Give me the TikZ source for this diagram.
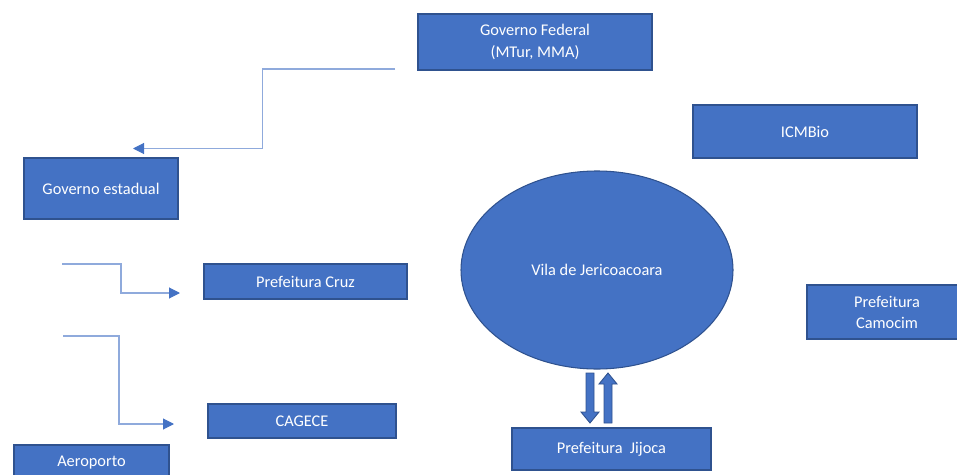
\documentclass[tikz,border=0pt]{standalone}
\usepackage{fontspec}
\setmainfont{Carlito}
\usetikzlibrary{arrows.meta,shapes.geometric}
\definecolor{boxblue}{HTML}{4472C4}
\definecolor{edgeblue}{HTML}{2F528F}
\definecolor{lineblue}{HTML}{8FAADC}
\tikzset{
  orgbox/.style={draw=edgeblue, fill=boxblue, text=white, line width=0.6pt,
    align=center, inner sep=0pt, font=\fontsize{9.3}{12}\selectfont},
  flow/.style={draw=lineblue, line width=0.6pt,
    -{Triangle[length=0.22cm, width=0.22cm, color=boxblue]}},
  blockarrow/.style={draw=edgeblue, fill=boxblue, line width=0.5pt}
}
\begin{document}
\begin{tikzpicture}
      \useasboundingbox (0,0) rectangle (19.14,-9.5);
      \clip (0,0) rectangle (19.14,-9.5);
      % boxes
      \draw
        (10.70,-0.84) node[orgbox, minimum width=4.68cm, minimum height=1.12cm] (federal){Governo Federal\\(MTur, MMA)}
        (16.10,-2.63) node[orgbox, minimum width=4.48cm, minimum height=1.06cm] (icmbio){ICMBio}
        (2.02,-3.77) node[orgbox, minimum width=3.08cm, minimum height=1.22cm] (estadual){Governo estadual}
        (6.11,-5.63) node[orgbox, minimum width=4.06cm, minimum height=0.70cm] (cruz){Prefeitura Cruz}
        (17.74,-6.24) node[orgbox, minimum width=3.20cm, minimum height=1.08cm] (camocim){Prefeitura\\Camocim}
        (6.04,-8.42) node[orgbox, minimum width=3.76cm, minimum height=0.68cm] (cagece){CAGECE}
        (12.23,-8.98) node[orgbox, minimum width=3.98cm, minimum height=0.84cm] (jijoca){Prefeitura~~Jijoca}
        (1.83,-9.26) node[orgbox, minimum width=3.10cm, minimum height=0.72cm] (aeroporto){Aeroporto}
        (11.94,-5.40) node[orgbox, ellipse, minimum width=5.44cm, minimum height=3.96cm] (vila){Vila de Jericoacoara};
      % loose ends of the connectors
      \coordinate (federalout) at (7.90,-1.38);
      \coordinate (estadualin) at (2.66,-2.97);
      \coordinate (cruzout) at (1.24,-5.28);
      \coordinate (cruzin) at (3.60,-5.86);
      \coordinate (cageceout) at (1.26,-6.72);
      \coordinate (cagecein) at (3.48,-8.48);
      \begin{scope}[flow]
        \draw (federalout) -| (5.25,-2.97) -- (estadualin);
        \draw (cruzout) -| (2.42,-5.86) -- (cruzin);
        \draw (cageceout) -| (2.38,-8.48) -- (cagecein);
      \end{scope}
      % vila <-> jijoca
      \draw[blockarrow, shift={(11.80,-7.46)}] (-0.08,0) -- (0.08,0) -- (0.08,-0.78) -- (0.18,-0.78)
        -- (0,-1.00) -- (-0.18,-0.78) -- (-0.08,-0.78) -- cycle;
      \draw[blockarrow, shift={(12.16,-7.46)}] (0,0) -- (0.18,-0.22) -- (0.08,-0.22) -- (0.08,-1.00)
        -- (-0.08,-1.00) -- (-0.08,-0.22) -- (-0.18,-0.22) -- cycle;
    \end{tikzpicture}
\end{document}
